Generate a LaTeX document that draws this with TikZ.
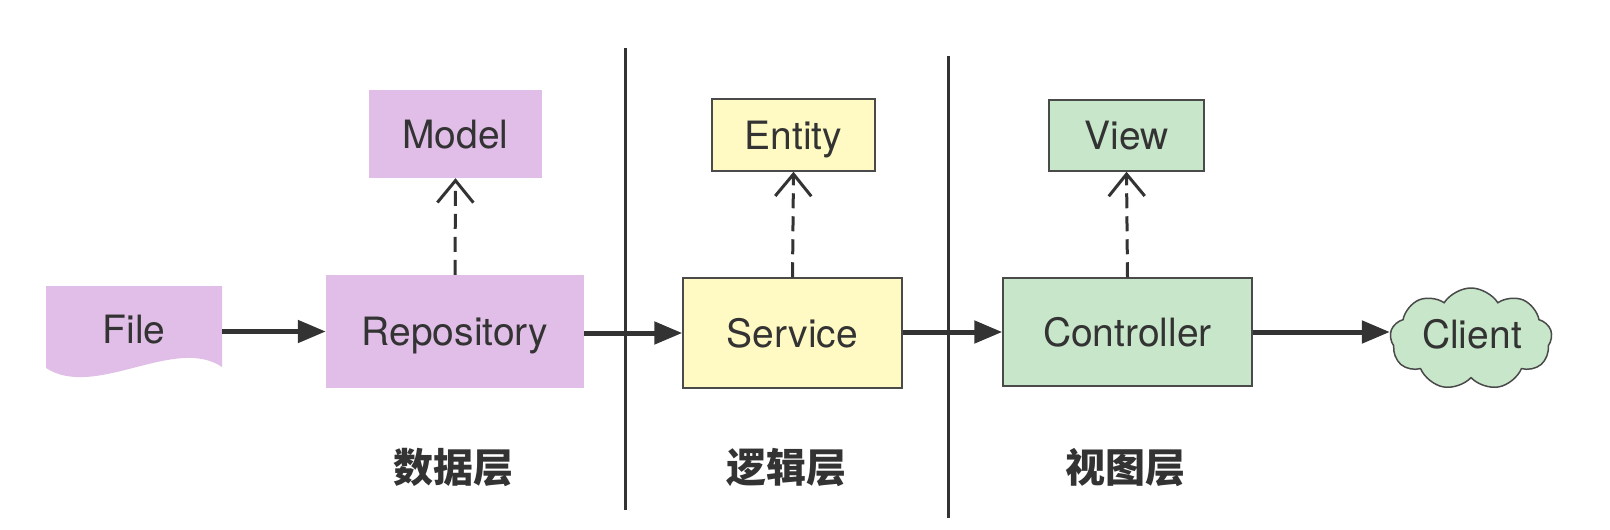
\documentclass[tikz,border=0pt]{standalone}
\usepackage{fontspec}
\setmainfont{TeX Gyre Heros}
\newfontfamily\cjk{Noto Sans CJK SC}
\usetikzlibrary{arrows.meta,shapes.symbols}
\definecolor{pinkf}{HTML}{E1BEE7}
\definecolor{yelf}{HTML}{FFF9C4}
\definecolor{grnf}{HTML}{C8E6C9}
\definecolor{ink}{HTML}{333333}
\definecolor{bord}{HTML}{4A4A4A}
\tikzset{
  lbl/.style={font=\fontsize{39}{46}\selectfont, text=ink, text height=28pt, text depth=0pt},
  pinkbox/.style={lbl, fill=pinkf, inner sep=0pt},
  yelbox/.style={lbl, fill=yelf, draw=bord, line width=1.5pt, inner sep=0pt},
  grnbox/.style={lbl, fill=grnf, draw=bord, line width=1.5pt, inner sep=0pt},
  flow/.style={draw=ink, line width=5pt, -{Triangle[length=28pt,width=22pt]}},
  dep/.style={draw=ink, line width=3pt, dash pattern=on 15pt off 8pt, -{Straight Barb[length=22pt,width=36pt]}},
  divider/.style={draw=ink, line width=3pt},
  layer/.style={font=\cjk\bfseries\fontsize{40}{46}\selectfont, text=ink}
}
\begin{document}
\begin{tikzpicture}[x=1pt,y=-1pt]
\useasboundingbox[fill=white] (0,0) rectangle (1610,530);
% dividers
\coordinate (d1t) at (625,48);
\coordinate (d1b) at (625,510);
\coordinate (d2t) at (948,56);
\coordinate (d2b) at (948,518);
% File shape
\fill[pinkf] (46,286) -- (222,286) -- (222,367) .. controls (175,335) and (95,400) .. (46,368) -- cycle;
\node[lbl, minimum width=176pt, minimum height=84pt, inner sep=0pt] (file) at (134,329) {File};
% boxes
\node[pinkbox, minimum width=258pt, minimum height=113pt] (repo) at (455,331.5) {Repository};
\node[pinkbox, minimum width=173pt, minimum height=88pt] (model) at (455.5,134) {Model};
\node[yelbox, minimum width=163pt, minimum height=72pt] (entity) at (793.5,135) {Entity};
\node[yelbox, minimum width=219pt, minimum height=110pt] (serv) at (792.5,333) {Service};
\node[grnbox, minimum width=155pt, minimum height=71pt] (view) at (1126.5,135.5) {View};
\node[grnbox, minimum width=249pt, minimum height=108pt] (ctrl) at (1127.5,332) {Controller};
\node[cloud, cloud puffs=9, cloud puff arc=115, aspect=1.6, fill=grnf, draw=bord, line width=1.5pt, inner sep=2pt, minimum width=162pt, minimum height=102pt] (client) at (1471,339) {};
\node[lbl] (clienttxt) at (1472,334) {Client};
% dividers drawn
\draw[divider] (d1t) -- (d1b);
\draw[divider] (d2t) -- (d2b);
% flows
\draw[flow] (file.east |- repo.west) -- (repo.west);
\draw[flow] (repo.east |- serv.west) -- (serv.west);
\draw[flow] (serv.east |- ctrl.west) -- (ctrl.west);
\draw[flow] (ctrl.east) -- (ctrl.east -| client.west);
% dependencies
\draw[dep] (repo.north) -- (model.south);
\draw[dep] (serv.north) -- (entity.south);
\draw[dep] (ctrl.north) -- (view.south);
% layer labels
\node[layer] (l1) at (453,468) {数据层};
\node[layer] (l2) at (786,468) {逻辑层};
\node[layer] (l3) at (1125,468) {视图层};
\end{tikzpicture}
\end{document}
